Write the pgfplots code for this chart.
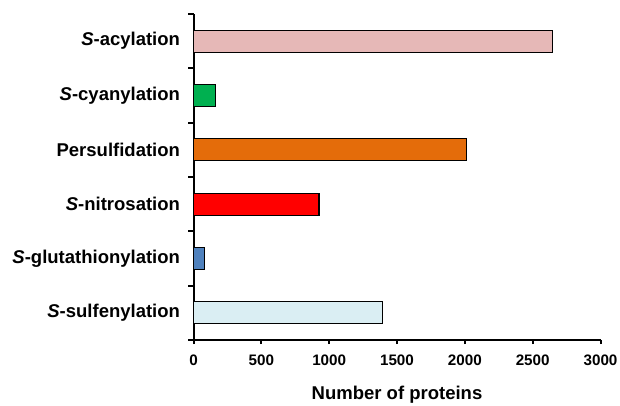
\documentclass[border=0pt]{standalone}
\usepackage{pgfplots}
\pgfplotsset{compat=1.18}
\usepackage{fontspec}
\setmainfont{Liberation Sans}
\definecolor{cAcy}{HTML}{E6B8B7}
\definecolor{cCya}{HTML}{00B050}
\definecolor{cPer}{HTML}{E46C0A}
\definecolor{cNit}{HTML}{FF0000}
\definecolor{cGlu}{HTML}{4F81BD}
\definecolor{cSul}{HTML}{DAEEF3}
\begin{document}
\begin{tikzpicture}
\begin{axis}[
  at={(193.5pt,65pt)}, anchor=south west,
  scale only axis, width=407pt, height=326pt,
  xbar, bar width=22pt, bar shift=0pt,
  xmin=0, xmax=3000, ymin=-0.5, ymax=5.5,
  axis x line*=bottom, axis y line*=left,
  axis line style={line width=2pt},
  xtick={0,500,...,3000},
  scaled x ticks=false,
  xticklabel style={font=\bfseries\fontsize{15.2}{18}\selectfont, yshift=-7pt},
  /pgf/number format/assume math mode=true,
  /pgf/number format/set thousands separator={},
  ytick={0,1,2,3,4,5},
  yticklabels={{\textit{S}-sulfenylation},{\textit{S}-glutathionylation},{\textit{S}-nitrosation},{Persulfidation},{\textit{S}-cyanylation},{\textit{S}-acylation}},
  yticklabel style={font=\bfseries\fontsize{18.5}{22}\selectfont, xshift=-6pt},
  minor ytick={-0.5,0.5,1.5,2.5,3.5,4.5,5.5},
  major tick length=4pt, minor tick length=5pt,
  tick align=outside,
  tick style={line width=2pt, black},
  y tick style={draw=none},
  minor y tick style={draw=black, line width=2pt},
  xlabel={\bfseries\fontsize{18.5}{22}\selectfont Number of proteins},
  xlabel style={yshift=-14pt},
  clip=false,
]
\addplot[fill=cSul, draw=black, line width=1.2pt] coordinates {(1394,0)};
\addplot[fill=cGlu, draw=black, line width=1.2pt] coordinates {(80,1)};
\addplot[fill=cNit, draw=black, line width=1.2pt] coordinates {(925,2)};
\addplot[fill=cPer, draw=black, line width=1.2pt] coordinates {(2015,3)};
\addplot[fill=cCya, draw=black, line width=1.2pt] coordinates {(163,4)};
\addplot[fill=cAcy, draw=black, line width=1.2pt] coordinates {(2644,5)};
\end{axis}
\pgfresetboundingbox
\path[use as bounding box] (0,0) rectangle (620pt,405pt);
\end{tikzpicture}
\end{document}
